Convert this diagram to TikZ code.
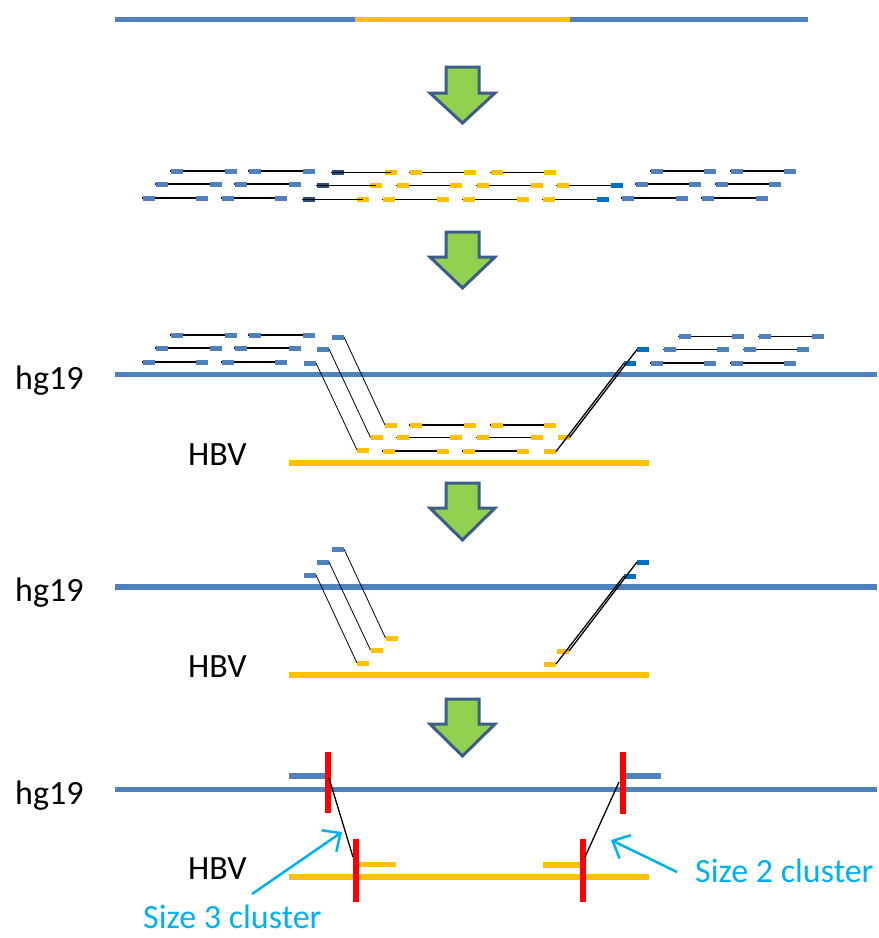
\documentclass[tikz,border=0pt]{standalone}
\usepackage{fontspec}
\setmainfont{Carlito}
\usetikzlibrary{arrows.meta}
\definecolor{hgblue}{RGB}{79,129,189}
\definecolor{hbvyel}{RGB}{255,192,0}
\definecolor{brblue}{RGB}{0,112,192}
\definecolor{dkblue}{RGB}{40,78,125}
\definecolor{arrowedge}{RGB}{62,92,138}
\definecolor{arrowfill}{RGB}{146,208,80}
\definecolor{cyanlab}{RGB}{0,176,240}
\definecolor{redbar}{RGB}{255,0,0}
\tikzset{
  blk/.style={rectangle, minimum width=12pt, minimum height=5pt, inner sep=0pt, outer sep=0pt, draw=none},
  readline/.style={line width=1.8pt, black},
  genome/.style={line width=5.5pt},
  toplink/.style={line width=0.8pt, black},
  rightlink/.style={line width=1.3pt, black},
  greenarrow/.style={draw=arrowedge, fill=arrowfill, line width=3pt, line join=miter},
  lab/.style={inner sep=0pt, font=\fontsize{34}{40}\selectfont},
  clab/.style={inner sep=0pt, text=cyanlab, font=\fontsize{34}{40}\selectfont},
  clarrow/.style={draw=cyanlab, line width=2.5pt, -{Straight Barb[length=14pt,width=26pt,line width=2.5pt]}},
  redmark/.style={draw=redbar, line width=6pt},
  shortbar/.style={line width=5.5pt},
  clink/.style={line width=1.3pt, black}
}
% read: name, x1, x2, y, left colour, right colour (line under blocks)
\newcommand\rdread[6]{%
  \coordinate (#1a) at ({#2+6},#4);
  \coordinate (#1b) at ({#3-6},#4);
  \draw[readline] ([xshift=-7pt]#1a) -- (#1b);
  \node[blk,fill=#5] (#1l) at (#1a) {};
  \node[blk,fill=#6] (#1r) at (#1b) {};
}
% read with line over the left block
\newcommand\rdover[6]{%
  \coordinate (#1a) at ({#2+6},#4);
  \coordinate (#1b) at ({#3-6},#4);
  \node[blk,fill=#5] (#1l) at (#1a) {};
  \node[blk,fill=#6] (#1r) at (#1b) {};
  \draw[readline] ([xshift=-7pt]#1a) -- (#1b);
}
\newcommand\garrow[3]{% top, wing, tip
  \draw[greenarrow] (446,#1) -- (479,#1) -- (479,#2) -- (495,#2) -- (462.5,#3) -- (430,#2) -- (446,#2) -- cycle;
}
\begin{document}
\begin{tikzpicture}[x=1pt,y=-1pt]
\useasboundingbox (0,0) rectangle (879,938);
\fill[white] (0,0) rectangle (879,938);

% ---------- panel 1 ----------
\coordinate (t0) at (115,19);
\coordinate (t1) at (355,19);
\coordinate (t2) at (570,19);
\coordinate (t3) at (808,19);
\draw[line width=5pt,hgblue] (t0) -- (t1);
\draw[line width=5pt,hbvyel] (t1) -- (t2);
\draw[line width=5pt,hgblue] (t2) -- (t3);

\garrow{67}{93}{123}

% ---------- panel 2 ----------
% row 1
\rdread{pa1}{171}{237}{171}{hgblue}{hgblue}
\rdread{pa2}{249}{315}{171}{hgblue}{hgblue}
\rdover{pa3}{332}{397}{172.5}{dkblue}{hbvyel}
\rdread{pa4}{410}{476}{172.5}{hbvyel}{hbvyel}
\rdread{pa5}{491}{556}{172.5}{hbvyel}{hbvyel}
\rdread{pa6}{651}{716}{171}{hgblue}{hgblue}
\rdread{pa7}{731}{796}{171}{hgblue}{hgblue}
% row 2
\rdread{pb1}{156}{222}{184}{hgblue}{hgblue}
\rdread{pb2}{235}{301}{184}{hgblue}{hgblue}
\rdover{pb3}{317}{382}{185.5}{dkblue}{hbvyel}
\rdread{pb4}{397}{462}{185.5}{hbvyel}{hbvyel}
\rdread{pb5}{477}{543}{185.5}{hbvyel}{hbvyel}
\rdread{pb6}{557}{623}{185.5}{hbvyel}{brblue}
\rdread{pb7}{636}{701}{184}{hgblue}{hgblue}
\rdread{pb8}{716}{781}{184}{hgblue}{hgblue}
% row 3
\rdread{pc1}{143}{208}{198}{hgblue}{hgblue}
\rdread{pc2}{222}{287}{198}{hgblue}{hgblue}
\rdover{pc3}{303}{369}{199.5}{dkblue}{hbvyel}
\rdread{pc4}{383}{449}{199.5}{hbvyel}{hbvyel}
\rdread{pc5}{463}{529}{199.5}{hbvyel}{hbvyel}
\rdread{pc6}{543}{609}{199.5}{hbvyel}{brblue}
\rdread{pc7}{622}{688}{198}{hgblue}{hgblue}
\rdread{pc8}{702}{768}{198}{hgblue}{hgblue}

\garrow{232}{257}{288}

% ---------- panel 3 ----------
\coordinate (g3a) at (115,374.5);
\coordinate (g3b) at (877,374.5);
\coordinate (v3a) at (289,463);
\coordinate (v3b) at (649,463);
\draw[genome,hgblue] (g3a) -- (g3b);
\draw[genome,hbvyel] (v3a) -- (v3b);
\node[lab,anchor=base west] (hg3) at (15,389) {hg19};
\node[lab,anchor=base west] (hbv3) at (188,465) {HBV};

% left blue reads
\rdread{qa1}{171}{237}{335}{hgblue}{hgblue}
\rdread{qa2}{249}{315}{335}{hgblue}{hgblue}
\rdread{qb1}{156}{222}{348}{hgblue}{hgblue}
\rdread{qb2}{235}{301}{348}{hgblue}{hgblue}
\rdread{qc1}{143}{208}{362}{hgblue}{hgblue}
\rdread{qc2}{222}{287}{362}{hgblue}{hgblue}
\node[blk,fill=hgblue] (L1) at (338,337) {};
\node[blk,fill=hgblue] (L2) at (323,349) {};
\node[blk,fill=hgblue] (L3) at (310,363) {};
% yellow reads
\node[blk,fill=hbvyel] (Y1) at (391,425) {};
\rdread{qd1}{410}{476}{425}{hbvyel}{hbvyel}
\rdread{qd2}{491}{556}{425}{hbvyel}{hbvyel}
\node[blk,fill=hbvyel] (Y2) at (376.5,437.5) {};
\rdread{qe1}{397}{462}{437.5}{hbvyel}{hbvyel}
\rdread{qe2}{477}{543}{437.5}{hbvyel}{hbvyel}
\node[blk,fill=hbvyel] (Y2r) at (563.5,437.5) {};
\node[blk,fill=hbvyel] (Y3) at (363,450) {};
\rdread{qf1}{383}{449}{451}{hbvyel}{hbvyel}
\rdread{qf2}{463}{529}{451}{hbvyel}{hbvyel}
\node[blk,fill=hbvyel] (Y3r) at (550,451.5) {};
% right blue reads
\rdread{qg1}{679}{744}{336.5}{hgblue}{hgblue}
\rdread{qg2}{759}{824}{336.5}{hgblue}{hgblue}
\node[blk,fill=brblue] (C2) at (643,349.5) {};
\rdread{qh1}{664}{729}{349.5}{hgblue}{hgblue}
\rdread{qh2}{744}{809}{349.5}{hgblue}{hgblue}
\node[blk,fill=brblue] (C3) at (630,363) {};
\rdread{qi1}{651}{716}{363}{hgblue}{hgblue}
\rdread{qi2}{731}{796}{363}{hgblue}{hgblue}
% links
\draw[toplink] (L1.east) -- (Y1.west);
\draw[toplink] (L2.east) -- (Y2.west);
\draw[toplink] (L3.east) -- (Y3.west);
\draw[rightlink] (Y2r.east) -- (C2.west);
\draw[rightlink] (Y3r.east) -- (C3.west);

\garrow{483}{508}{540}

% ---------- panel 4 ----------
\coordinate (g4a) at (115,587);
\coordinate (g4b) at (877,587);
\coordinate (v4a) at (289,675);
\coordinate (v4b) at (649,675);
\draw[genome,hgblue] (g4a) -- (g4b);
\draw[genome,hbvyel] (v4a) -- (v4b);
\node[lab,anchor=base west] (hg4) at (15,601.5) {hg19};
\node[lab,anchor=base west] (hbv4) at (188,677) {HBV};

\node[blk,fill=hgblue] (M1) at (338,549) {};
\node[blk,fill=hgblue] (M2) at (323,562) {};
\node[blk,fill=hgblue] (M3) at (310,575) {};
\node[blk,fill=hbvyel] (N1) at (391.5,638) {};
\node[blk,fill=hbvyel] (N2) at (376.5,650) {};
\node[blk,fill=hbvyel] (N3) at (363,663) {};
\node[blk,fill=brblue] (D2) at (643,562) {};
\node[blk,fill=brblue] (D3) at (630,576) {};
\node[blk,fill=hbvyel] (N2r) at (563,651) {};
\node[blk,fill=hbvyel] (N3r) at (550,664) {};
\draw[toplink] (M1.east) -- (N1.west);
\draw[toplink] (M2.east) -- (N2.west);
\draw[toplink] (M3.east) -- (N3.west);
\draw[rightlink] (N2r.east) -- (D2.west);
\draw[rightlink] (N3r.east) -- (D3.west);

\garrow{699}{724}{756}

% ---------- panel 5 ----------
\coordinate (g5a) at (115,789.5);
\coordinate (g5b) at (877,789.5);
\coordinate (v5a) at (289,877);
\coordinate (v5b) at (649,877);
\draw[genome,hgblue] (g5a) -- (g5b);
\draw[genome,hbvyel] (v5a) -- (v5b);
\node[lab,anchor=base west] (hg5) at (15,804) {hg19};
\node[lab,anchor=base west] (hbv5) at (188,879) {HBV};

\coordinate (sb1a) at (289,776);
\coordinate (sb1b) at (327,776);
\coordinate (sb2a) at (623,776);
\coordinate (sb2b) at (661,776);
\coordinate (sy1a) at (356,864.5);
\coordinate (sy1b) at (396,864.5);
\coordinate (sy2a) at (543,865);
\coordinate (sy2b) at (583,865);
\draw[shortbar,hgblue] (sb1a) -- (sb1b);
\draw[shortbar,hgblue] (sb2a) -- (sb2b);
\draw[shortbar,hbvyel] (sy1a) -- (sy1b);
\draw[shortbar,hbvyel] (sy2a) -- (sy2b);

\coordinate (r1t) at (327.5,752);
\coordinate (r1b) at (327.5,813);
\coordinate (r2t) at (356,839);
\coordinate (r2b) at (356,902);
\coordinate (r3t) at (623,752);
\coordinate (r3b) at (623,814);
\coordinate (r4t) at (583,839);
\coordinate (r4b) at (583,902);
\draw[redmark] (r1t) -- (r1b);
\draw[redmark] (r2t) -- (r2b);
\draw[redmark] (r3t) -- (r3b);
\draw[redmark] (r4t) -- (r4b);

\coordinate (k1a) at (329,778);
\coordinate (k1b) at (353,857);
\coordinate (k2a) at (619,782);
\coordinate (k2b) at (585,857);
\draw[clink] (k1a) -- (k1b);
\draw[clink] (k2a) -- (k2b);

\coordinate (ct3) at (252,894);
\coordinate (ch3) at (342,832);
\coordinate (ct2) at (677,872);
\coordinate (ch2) at (611,840);
\draw[clarrow] (ct3) -- (ch3);
\draw[clarrow] (ct2) -- (ch2);
\node[clab,anchor=base west] (s3) at (143,928) {Size 3 cluster};
\node[clab,anchor=base west] (s2) at (695,882) {Size 2 cluster};
\end{tikzpicture}
\end{document}
